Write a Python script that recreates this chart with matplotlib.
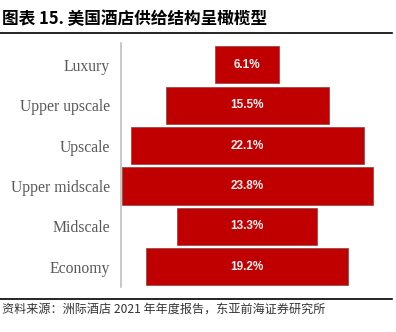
import matplotlib
matplotlib.use("Agg")
import matplotlib.pyplot as plt
from matplotlib.lines import Line2D

categories = ["Luxury", "Upper upscale", "Upscale", "Upper midscale", "Midscale", "Economy"]
shares = [6.1, 15.5, 22.1, 23.8, 13.3, 19.2]
share_labels = ["6.1%", "15.5%", "22.1%", "23.8%", "13.3%", "19.2%"]

title = "图表 15. 美国酒店供给结构呈橄榄型"
source = "资料来源：洲际酒店 2021 年年度报告，东亚前海证券研究所"

W, H = 396, 332
fig = plt.figure(figsize=(W / 100, H / 100), dpi=100)

# chart area: left edge sits on the grey category axis
ax = fig.add_axes([121 / W, 1 - 287 / H, (392 - 121) / W, (287 - 43) / H])
ypos = list(range(len(categories)))
lefts = [-v / 2 for v in shares]
ax.barh(ypos, shares, left=lefts, height=0.92, color="#c00000",
        edgecolor="#9a4a4a", linewidth=0.6)
for y, lab in zip(ypos, share_labels):
    ax.text(0, y, lab, ha="center", va="center", color="#f4f0f0",
            fontsize=8.5, fontweight="bold", family="Liberation Sans")

ax.set_xlim(-12.0, 13.74)
ax.set_ylim(5.5, -0.54)
ax.set_xticks([])
ax.set_yticks(ypos)
ax.set_yticklabels(categories, family="Liberation Serif", fontsize=11.3, color="#595959")
ax.tick_params(axis="y", length=0, pad=8)
for side in ["top", "right", "bottom"]:
    ax.spines[side].set_visible(False)
ax.spines["left"].set_color("#bfbfbf")
ax.spines["left"].set_linewidth(1.2)

fig.text(2 / W, 1 - 19 / H, title, ha="left", va="center", fontsize=12,
         fontweight="bold", family=["Noto Sans CJK SC", "DejaVu Sans"])
fig.add_artist(Line2D([0, 392 / W], [1 - 33 / H, 1 - 33 / H], color="black", lw=1.2))
fig.add_artist(Line2D([0, 392 / W], [1 - 299 / H, 1 - 299 / H], color="black", lw=1.2))
fig.text(2 / W, 1 - 309 / H, source, ha="left", va="center", fontsize=8.7,
         color="#333333", family=["Noto Sans CJK SC", "DejaVu Sans"])

fig.savefig("out.png", dpi=100)
